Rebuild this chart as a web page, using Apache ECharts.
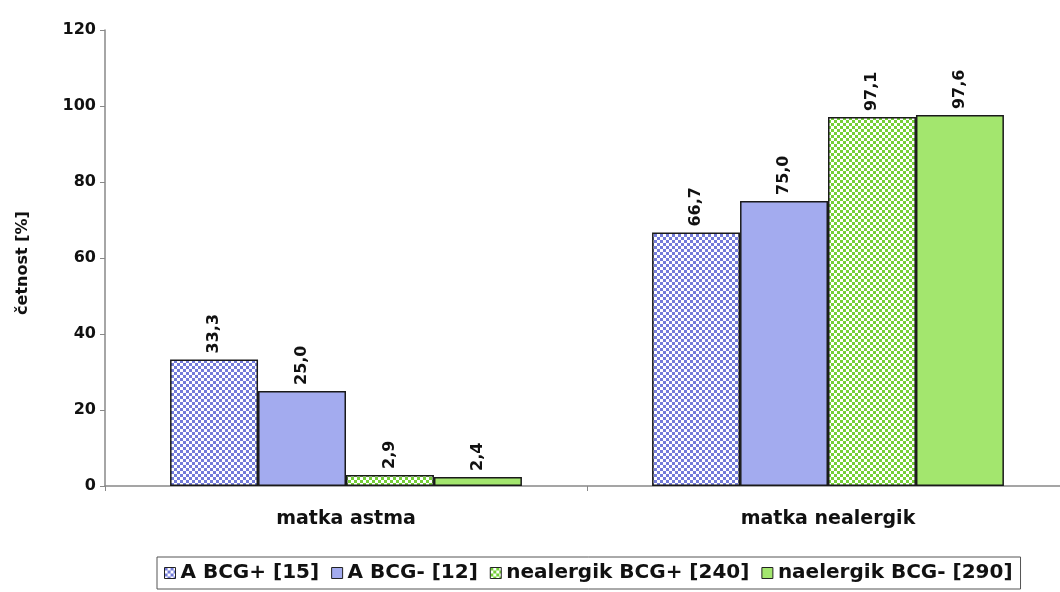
<!DOCTYPE html>
<html>
<head>
<meta charset="utf-8">
<script src="https://cdn.jsdelivr.net/npm/echarts@6/dist/echarts.min.js"></script>
<style>
  html, body { margin: 0; padding: 0; background: #fff; }
  #chart { width: 1060px; height: 592px; }
</style>
</head>
<body>
<div id="chart"></div>
<script>
// Categories and series values
const categories = ['matka astma', 'matka nealergik'];
const seriesNames = ['A BCG+ [15]', 'A BCG- [12]', 'nealergik BCG+ [240]', 'naelergik BCG- [290]'];
const aBcgPlus = [33.3, 66.7];
const aBcgMinus = [25.0, 75.0];
const nealergikBcgPlus = [2.9, 97.1];
const naelergikBcgMinus = [2.4, 97.6];
const yTicks = [0, 20, 40, 60, 80, 100, 120];
const yTitle = 'četnost [%]';

// Small checkerboard tile used as a fill pattern
function checker(color, bg, cell) {
  const c = document.createElement('canvas');
  c.width = cell * 2; c.height = cell * 2;
  const g = c.getContext('2d');
  g.fillStyle = bg; g.fillRect(0, 0, c.width, c.height);
  g.fillStyle = color;
  g.fillRect(0, 0, cell, cell);
  g.fillRect(cell, cell, cell, cell);
  return { image: c, repeat: 'repeat' };
}

const fills = [
  checker('#737bd9', '#ffffff', 3),
  '#a3abef',
  checker('#74d036', '#ffffff', 3),
  '#a3e66e'
];
const values = [aBcgPlus, aBcgMinus, nealergikBcgPlus, naelergikBcgMinus];

const font = '"DejaVu Sans", Verdana, sans-serif';

const chart = echarts.init(document.getElementById('chart'), null, { renderer: 'canvas' });

chart.setOption({
  animation: false,
  backgroundColor: '#ffffff',
  // the plot area runs a little past the right edge of the canvas
  grid: { left: 105, width: 964, top: 30, height: 456, containLabel: false, outerBoundsMode: 'none' },
  graphic: [{
    type: 'text',
    x: 23,
    y: 263,
    rotation: Math.PI / 2,
    style: {
      text: yTitle,
      fontFamily: font,
      fontWeight: 'bold',
      fontSize: 16,
      fill: '#111',
      align: 'center',
      verticalAlign: 'middle'
    }
  }],
  legend: {
    left: 157,
    top: 557,
    itemWidth: 11,
    itemHeight: 11,
    itemGap: 12,
    padding: [6, 8, 6, 7],
    borderColor: '#555',
    borderWidth: 1,
    icon: 'rect',
    data: seriesNames,
    itemStyle: { borderColor: '#222', borderWidth: 1 },
    textStyle: { fontFamily: font, fontWeight: 'bold', fontSize: 20, color: '#111' }
  },
  xAxis: {
    type: 'category',
    data: categories,
    axisLine: { lineStyle: { color: '#888', width: 1.5 } },
    axisTick: { show: true, length: 5, lineStyle: { color: '#888' } },
    axisLabel: { fontFamily: font, fontWeight: 'bold', fontSize: 19, color: '#111', margin: 24 }
  },
  yAxis: {
    type: 'value',
    min: 0,
    max: yTicks[yTicks.length - 1],
    interval: yTicks[1] - yTicks[0],
    axisLine: { show: true, lineStyle: { color: '#888', width: 1.5 } },
    axisTick: { show: true, length: 5, lineStyle: { color: '#888' } },
    splitLine: { show: false },
    axisLabel: { fontFamily: font, fontWeight: 'bold', fontSize: 16, color: '#111', margin: 9 }
  },
  series: seriesNames.map((name, i) => ({
    name: name,
    type: 'bar',
    data: values[i],
    barGap: '0%',
    barCategoryGap: '27%',
    itemStyle: { color: fills[i], borderColor: '#1a1a1a', borderWidth: 1.5 },
    label: {
      show: true,
      position: 'top',
      rotate: 90,
      align: 'left',
      verticalAlign: 'middle',
      distance: 6,
      fontFamily: font,
      fontWeight: 'bold',
      fontSize: 16,
      color: '#111',
      formatter: p => p.value.toFixed(1).replace('.', ',')
    }
  }))
});
</script>
</body>
</html>
